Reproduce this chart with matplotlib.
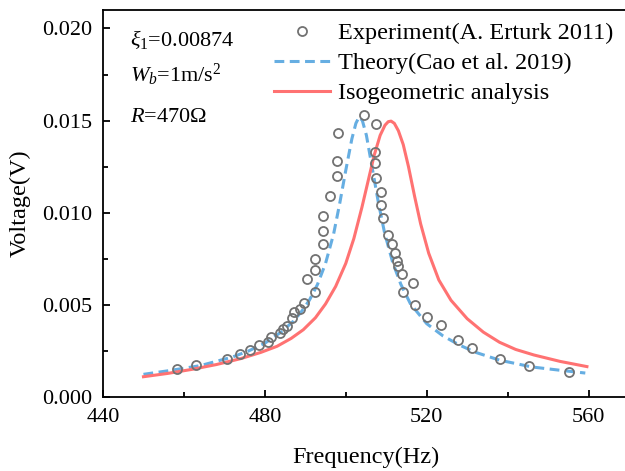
import numpy as np
import matplotlib
matplotlib.use('Agg')
import matplotlib.pyplot as plt
from matplotlib.ticker import MultipleLocator, FormatStrFormatter

plt.rcParams['font.family'] = 'serif'
plt.rcParams['font.serif'] = ['Liberation Serif', 'DejaVu Serif']
plt.rcParams['mathtext.fontset'] = 'custom'
plt.rcParams['mathtext.rm'] = 'Liberation Serif'
plt.rcParams['mathtext.it'] = 'Liberation Serif:italic'

# experiment (A. Erturk 2011)
f_exp = [458.4, 463.0, 470.6, 473.9, 476.3, 478.6, 480.9, 481.5, 483.8, 484.6,
         485.4, 486.6, 487.2, 488.6, 489.7, 490.4, 492.4, 492.4, 492.4, 494.3,
         494.3, 494.3, 496.1, 497.9, 497.9, 498.0, 504.4, 507.5, 507.2, 507.2,
         507.5, 508.7, 508.8, 509.1, 510.4, 511.4, 512.2, 512.6, 512.9, 513.8,
         514.1, 516.7, 517.1, 520.0, 523.5, 527.7, 531.1, 538.0, 545.4, 555.2]
v_exp = [0.00150, 0.00174, 0.00205, 0.00232, 0.00255, 0.00283, 0.00300, 0.00324, 0.00350, 0.00368,
         0.00386, 0.00430, 0.00460, 0.00480, 0.00510, 0.00640, 0.00570, 0.00690, 0.00750, 0.00830,
         0.00900, 0.00980, 0.01090, 0.01200, 0.01280, 0.01430, 0.01530, 0.01480, 0.01330, 0.01270,
         0.01190, 0.01110, 0.01040, 0.00970, 0.00880, 0.00830, 0.00780, 0.00740, 0.00710, 0.00670,
         0.00570, 0.00620, 0.00500, 0.00436, 0.00390, 0.00310, 0.00264, 0.00207, 0.00168, 0.00134]

# theory (Cao et al. 2019)
f_th = [450, 456, 464, 472, 476, 480, 484, 487, 489, 491, 493, 495, 497, 498.5, 500,
        501.5, 502.5, 503.3, 504.1, 505.1, 506.6, 508.1, 509.6, 511.6, 513.6, 516,
        520, 524, 528, 532, 538, 546, 553, 559.2]
v_th = [0.00123, 0.00142, 0.00170, 0.00217, 0.00250, 0.00292, 0.00352, 0.00410, 0.00462,
        0.00525, 0.00610, 0.00725, 0.00885, 0.01050, 0.01230, 0.01400, 0.01485, 0.01520,
        0.01500, 0.01420, 0.01235, 0.01050, 0.00890, 0.00730, 0.00612, 0.00505, 0.00398,
        0.00332, 0.00283, 0.00243, 0.00200, 0.00163, 0.00145, 0.00130]

# isogeometric analysis
f_iga = [450, 456, 462, 468, 474, 479, 483, 486.5, 489.5, 492.5, 495, 497.5, 500, 502,
         504, 505.5, 507, 508.5, 509.7, 510.5, 511.2, 512, 513, 514.2, 515.5, 517, 518.5,
         520.5, 523, 526, 530, 534, 538, 542, 546.5, 553, 559.6]
v_iga = [0.00110, 0.00128, 0.00150, 0.00176, 0.00208, 0.00242, 0.00275, 0.00318, 0.00365,
         0.00430, 0.00505, 0.00600, 0.00725, 0.00860, 0.01030, 0.01170, 0.01310, 0.01420,
         0.01475, 0.01494, 0.01497, 0.01485, 0.01445, 0.01370, 0.01250, 0.01090, 0.00940,
         0.00780, 0.00635, 0.00525, 0.00425, 0.00352, 0.00297, 0.00258, 0.00228, 0.00193,
         0.00165]

W, H = 625, 471
fig = plt.figure(figsize=(W / 100, H / 100), dpi=100)
ax = fig.add_axes([103 / W, 74 / H, 526 / W, 387 / H])

th, = ax.plot(f_th, v_th, color='#66AEE2', lw=2.2, ls=(0, (3.2, 1.8)), zorder=2)
iga, = ax.plot(f_iga, v_iga, color='#FF7272', lw=2.2, zorder=2)
ex, = ax.plot(f_exp, v_exp, ls='none', marker='o', ms=6.5, mfc='none',
              mec='#727272', mew=1.3, zorder=3)

ax.set_xlim(440, 570)
ax.set_ylim(0, 0.021)
ax.xaxis.set_major_locator(MultipleLocator(40))
ax.xaxis.set_minor_locator(MultipleLocator(20))
ax.yaxis.set_major_locator(MultipleLocator(0.005))
ax.yaxis.set_minor_locator(MultipleLocator(0.0025))
ax.yaxis.set_major_formatter(FormatStrFormatter('%.3f'))
ax.tick_params(which='both', direction='in', width=1.3, labelsize=16)
ax.tick_params(which='major', length=5)
ax.tick_params(which='minor', length=3.3)
ax.tick_params(axis='x', pad=8)
ax.tick_params(axis='y', pad=8)
for s in ax.spines.values():
    s.set_linewidth(1.3)

ax.set_xlabel('Frequency(Hz)', fontsize=17.5, labelpad=14)
ax.set_ylabel('Voltage(V)', fontsize=17.5, labelpad=8)

ax.legend([ex, th, iga],
          ['Experiment(A. Erturk 2011)', 'Theory(Cao et al. 2019)', 'Isogeometric analysis'],
          loc='upper left', bbox_to_anchor=(274 / W, 1 - 22 / H), bbox_transform=fig.transFigure,
          frameon=False, borderpad=0, borderaxespad=0, handlelength=2.3, handletextpad=0.33,
          labelspacing=0.33, fontsize=17.5, numpoints=1)

fig.text(130 / W, 1 - 46 / H, r'$\xi_1$=0.00874', fontsize=16, va='baseline')
fig.text(130 / W, 1 - 82 / H, r'$W_b$=1m/s$^{\mathrm{2}}$', fontsize=16, va='baseline')
fig.text(130 / W, 1 - 122 / H, r'$R$=470Ω', fontsize=16, va='baseline')

fig.savefig('out.png', dpi=100)
